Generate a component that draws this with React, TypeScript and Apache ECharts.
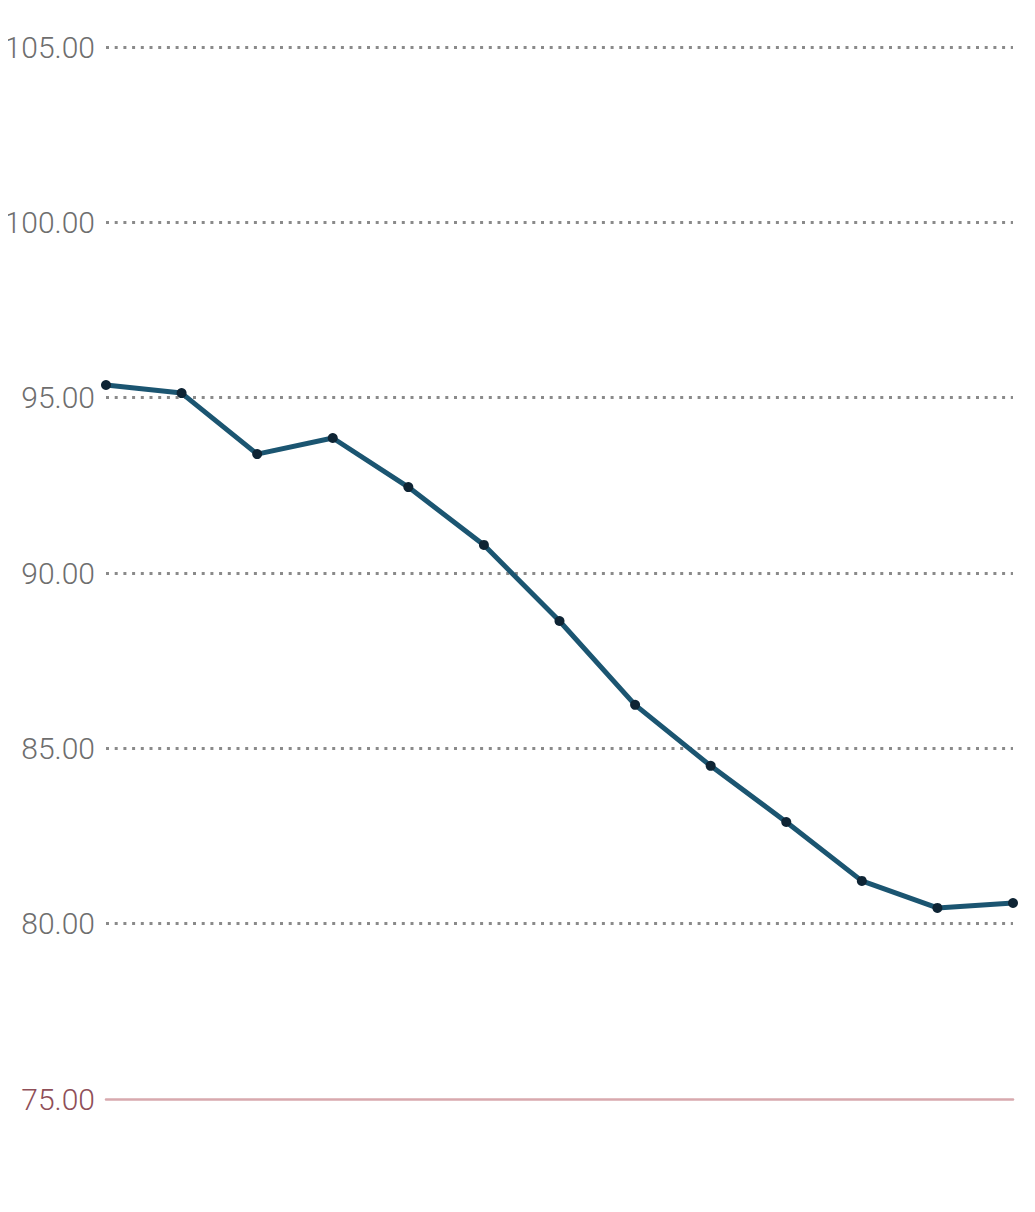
import React, { useEffect, useRef } from "react";
import * as echarts from "echarts";

const categories = ["1", "2", "3", "4", "5", "6", "7", "8", "9", "10", "11", "12", "13"];
const values = [95.36, 95.13, 93.39, 93.85, 92.45, 90.8, 88.63, 86.24, 84.5, 82.9, 81.22, 80.45, 80.59];
const yMin = 75;
const yMax = 105;
const yStep = 5;

export default function App() {
  const ref = useRef<HTMLDivElement>(null);
  useEffect(() => {
    if (!ref.current) return;
    const chart = echarts.init(ref.current, null, { renderer: "svg" });
    chart.setOption({
      animation: false,
      backgroundColor: "#ffffff",
      grid: { left: 106, right: 22, top: 47, bottom: 101, containLabel: false, outerBoundsMode: "none" },
      xAxis: {
        type: "category",
        data: categories,
        boundaryGap: false,
        axisLine: { show: true, lineStyle: { color: "#d8a9ae", width: 2.5 } },
        axisTick: { show: false },
        axisLabel: { show: false },
        splitLine: { show: false },
      },
      yAxis: {
        type: "value",
        min: yMin,
        max: yMax,
        interval: yStep,
        axisLine: { show: false },
        axisTick: { show: false },
        axisLabel: {
          margin: 11,
          fontFamily: "Roboto",
          fontSize: 30,
          fontWeight: 300,
          color: "#6e6e6e",
          formatter: (v: number) => (v === yMin ? "{red|" + v.toFixed(2) + "}" : v.toFixed(2)),
          rich: {
            red: { fontFamily: "Roboto", fontSize: 30, fontWeight: 300, color: "#8f4f58" },
          },
        },
        splitLine: {
          show: true,
          showMinLine: false,
          lineStyle: { color: "#8a8a8a", width: 3, type: [3, 5.7] },
        },
      },
      series: [
        {
          type: "line",
          data: values,
          lineStyle: { color: "#1b5571", width: 5 },
          itemStyle: { color: "#0e2434" },
          symbol: "circle",
          symbolSize: 10,
          showSymbol: true,
          z: 5,
        },
      ],
    });
    return () => chart.dispose();
  }, []);
  return (
    <div
      ref={ref}
      style={{ width: 1035, height: 1200, marginLeft: -8, marginTop: -8 }}
    />
  );
}
